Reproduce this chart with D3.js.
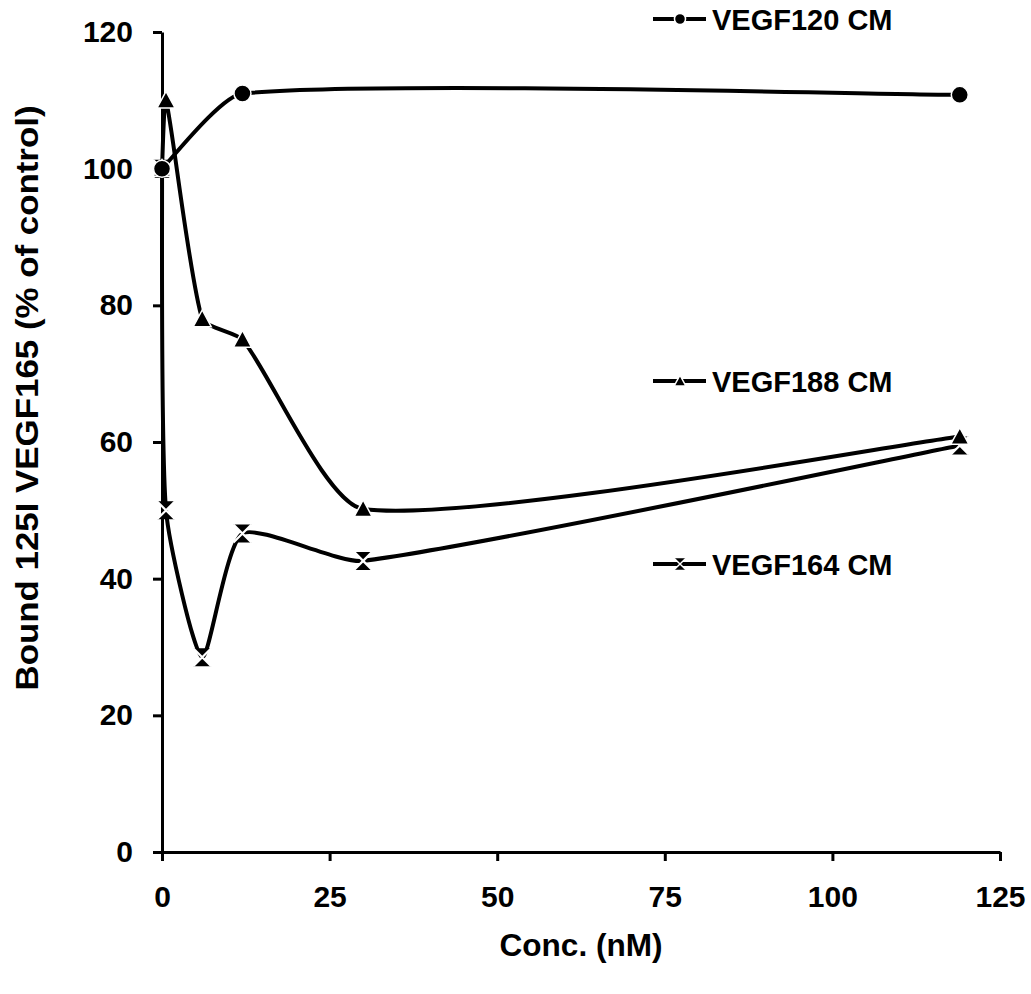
<html>
<head>
  <script src="https://d3js.org/d3.v7.min.js"></script>
  <style>
    body{ margin:0; background:#fff; }
    svg{ display:block; font-family:"Liberation Sans", Arial, sans-serif; font-weight:bold; }
  </style>
</head>
<body>
  <script type="text/javascript">

    // data
    var conc120 = [0, 12, 119];
    var vegf120 = [100, 111, 110.8];
    var conc188 = [0, 0.6, 6, 12, 30, 119];
    var vegf188 = [100, 110, 78, 75, 50.2, 60.8];
    var conc164 = [0, 0.6, 6, 12, 30, 119];
    var vegf164 = [100, 50, 28.5, 46.6, 42.6, 59.5];

    var xTicks = [0, 25, 50, 75, 100, 125];
    var yTicks = [0, 20, 40, 60, 80, 100, 120];

    var seriesNames = ["VEGF164 CM", "VEGF188 CM", "VEGF120 CM"];
    var legendY = [564, 381, 19];

    var screen = {width:1031, height:994}
    var margins = {top:32, right:31, bottom:142, left:162}
    var width = screen.width - margins.left - margins.right;
    var height = screen.height - margins.top - margins.bottom;

    var svg = d3.select("body").append("svg")
      .attr("width", screen.width)
      .attr("height", screen.height)

    var xScale = d3.scaleLinear().domain([0,125]).range([0,width]);
    var yScale = d3.scaleLinear().domain([0,120]).range([height,0]);

    var plot = svg.append("g")
      .attr("transform","translate(" + margins.left + "," + margins.top + ")")

    // axes
    var xAxis = d3.axisBottom(xScale).tickValues(xTicks).tickSize(9).tickPadding(20).tickSizeOuter(0);
    var yAxis = d3.axisLeft(yScale).tickValues(yTicks).tickSize(9).tickPadding(20).tickSizeOuter(0);

    var gx = plot.append("g").attr("transform","translate(0," + height + ")").call(xAxis);
    var gy = plot.append("g").call(yAxis);
    [gx, gy].forEach(function(g){
      g.selectAll("path,line").attr("stroke","#000").attr("stroke-width",3);
      g.selectAll("text").attr("fill","#000").style("font-size","30px").style("font-weight","bold")
       .style("font-family","'Liberation Sans', Arial, sans-serif");
    });
    gx.selectAll("text").attr("dy","0.87em");

    // axis titles
    svg.append("text")
      .attr("x", 581)
      .attr("y", 956)
      .attr("text-anchor","middle")
      .attr("textLength", 163)
      .attr("lengthAdjust","spacingAndGlyphs")
      .style("font-size","32px")
      .text("Conc. (nM)")

    svg.append("text")
      .attr("transform","translate(38,398) rotate(-90)")
      .attr("text-anchor","middle")
      .attr("textLength", 585)
      .attr("lengthAdjust","spacingAndGlyphs")
      .style("font-size","32px")
      .text("Bound 125I VEGF165 (% of control)")

    // spreadsheet-style smoothed line (bezier, tangents weighted by segment length)
    var k = 1/5;
    function smoothPath(pts){
      var p = d3.path();
      var n = pts.length;
      function dist(a,b){ return Math.hypot(b[0]-a[0], b[1]-a[1]); }
      var tin = [], tout = [];
      for(var i=0;i<n;i++){
        if(i == 0){
          tout[i] = [(pts[1][0]-pts[0][0])*k/2, (pts[1][1]-pts[0][1])*k/2];
        } else if(i == n-1){
          tin[i] = [(pts[i][0]-pts[i-1][0])*k/2, (pts[i][1]-pts[i-1][1])*k/2];
        } else {
          var d0 = dist(pts[i-1],pts[i]), d1 = dist(pts[i],pts[i+1]);
          var dx = pts[i+1][0]-pts[i-1][0], dy = pts[i+1][1]-pts[i-1][1];
          var wi = d0/(d0+d1), wo = d1/(d0+d1);
          tin[i] = [dx*wi*k, dy*wi*k];
          tout[i] = [dx*wo*k, dy*wo*k];
        }
      }
      p.moveTo(pts[0][0], pts[0][1]);
      for(var j=0;j<n-1;j++){
        p.bezierCurveTo(pts[j][0]+tout[j][0], pts[j][1]+tout[j][1],
                        pts[j+1][0]-tin[j+1][0], pts[j+1][1]-tin[j+1][1],
                        pts[j+1][0], pts[j+1][1]);
      }
      return p.toString();
    }

    // markers
    function drawMarker(g, type, s){
      if(type == "circle"){
        g.append("circle").attr("r", 8.5*s).attr("fill","#000").attr("stroke","#fff").attr("stroke-width",1.5);
      } else if(type == "triangle"){
        var h = 9*s;
        g.append("path").attr("d","M0," + (-h) + "L" + h + "," + (h*0.85) + "L" + (-h) + "," + (h*0.85) + "Z")
         .attr("fill","#000").attr("stroke","#fff").attr("stroke-width",1.5);
      } else {
        var a = 9*s;
        g.append("path").attr("d","M" + (-a) + "," + (-a) + "L" + a + "," + (-a) + "L0,0Z M" + (-a) + "," + a + "L" + a + "," + a + "L0,0Z")
         .attr("fill","#000");
        g.append("path").attr("d","M" + (-a) + "," + (-a) + "L" + a + "," + a + "M" + a + "," + (-a) + "L" + (-a) + "," + a)
         .attr("stroke","#fff").attr("stroke-width",2.2*s);
      }
    }

    var series = [
      {name:seriesNames[0], x:conc164, y:vegf164, marker:"cross"},
      {name:seriesNames[1], x:conc188, y:vegf188, marker:"triangle"},
      {name:seriesNames[2], x:conc120, y:vegf120, marker:"circle"}
    ];

    series.forEach(function(s){
      var pts = s.x.map(function(v,i){return [xScale(v), yScale(s.y[i])]});
      var g = plot.append("g");
      g.append("path").attr("d", smoothPath(pts))
        .attr("fill","none").attr("stroke","#000").attr("stroke-width",4);
      pts.forEach(function(p){
        var m = g.append("g").attr("transform","translate(" + p[0] + "," + p[1] + ")");
        drawMarker(m, s.marker, 1);
      });
    });

    // legend
    var legend = svg.append("g")
    series.forEach(function(s,i){
      var lg = legend.append("g").attr("transform","translate(653," + legendY[i] + ")");
      lg.append("line").attr("x1",0).attr("x2",53).attr("stroke","#000").attr("stroke-width",4);
      var m = lg.append("g").attr("transform","translate(27,0)");
      drawMarker(m, s.marker, 0.65);
      lg.append("text").attr("x",59).attr("y",11)
        .style("font-size","29px")
        .text(s.name);
    });

  </script>
</body>
</html>
